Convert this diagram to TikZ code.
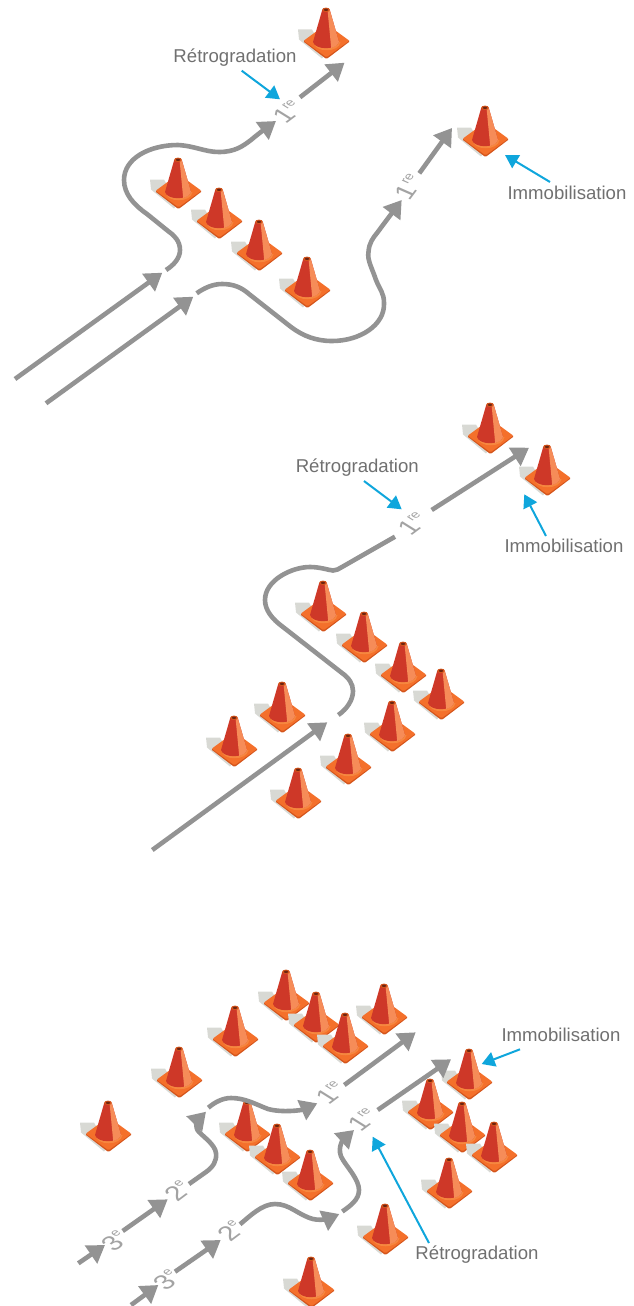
\documentclass[tikz,border=0pt]{standalone}
\usepackage{fontspec}
\setmainfont{Liberation Sans}
\usetikzlibrary{arrows.meta}
\definecolor{roadgrey}{HTML}{939393}
\definecolor{textgrey}{HTML}{707070}
\definecolor{callblue}{HTML}{0FA6DC}
\definecolor{shadowgrey}{HTML}{D8D9D4}
\definecolor{baseorange}{HTML}{F4702B}
\definecolor{baseedge}{HTML}{D4551C}
\definecolor{baselight}{HTML}{F6873F}
\definecolor{conered}{HTML}{CE3828}
\definecolor{conelight}{HTML}{F68C58}
\definecolor{conehole}{HTML}{6E2410}
\tikzset{
  road/.style={draw=roadgrey,line width=4.6pt,line cap=butt,line join=round},
  roadarrow/.style={road,-{Triangle[length=17pt,width=21pt]}},
  callout/.style={draw=callblue,line width=2pt,-{Triangle[length=13pt,width=15pt]}},
  caption/.style={text=textgrey,font=\fontsize{18.6}{22}\selectfont,inner sep=0pt},
  gear/.style={text=roadgrey!85!white,font=\fontsize{26}{26}\selectfont,inner sep=0pt,cm={.8,.6,-.85,.53,(0,0)}},
  gearsteep/.style={text=roadgrey!85!white,font=\fontsize{26}{26}\selectfont,inner sep=0pt,cm={.6,.8,-.91,.4,(0,0)}},
  trafficcone/.pic={
    \fill[shadowgrey] (-28,20.5) -- (-14,20.5) -- (0,45) -- (-4,49.5) -- (-27,30.5) -- cycle;
    \fill[baseedge] (-22,31.5) -- (-22,33) -- (-1,49) [rounded corners=1pt] -- (0.5,49.8) -- (2,49) [sharp corners] -- (23,33) -- (23,31.5) -- cycle;
    \fill[baseorange,rounded corners=1pt] (-22.3,31.7) -- (0.5,15) -- (23.3,31.7) -- (0.5,48.3) -- cycle;
    \fill[baselight] (-12.5,33) .. controls (-12,44) and (13,44) .. (14.5,33) -- cycle;
    \fill[conered] (-3.8,1) -- (-13,33) .. controls (-11,41) and (10,41.5) .. (13,33) -- (3.8,1) -- cycle;
    \fill[conelight] (1.5,0.5) -- (3.8,1) -- (13,33) .. controls (11.5,36.5) and (8.5,38.5) .. (5.2,39) -- cycle;
    \fill[baseedge] (0,0.8) ellipse[x radius=3.9pt,y radius=2.2pt];
    \fill[conehole] (0,0.8) ellipse[x radius=2.1pt,y radius=1.2pt];
  }
}
\newcommand{\gearmark}[2]{#1\raisebox{0.45em}{\fontsize{13}{13}\selectfont #2}}
\begin{document}
\begin{tikzpicture}[x=1pt,y=-1pt]
\useasboundingbox (0,0) rectangle (634,1306);

% ---------- cones, back to front
\foreach \p in {(326,9),(485,107),(178,159),(219,189),(259,221),(307,258),
  (490,404),(547,446),(323,582),(364,613),(403,643),(441,670),(282,683),(392,702),(234,717),(348,735),(298,769),
  (286,971),(384,985),(316,993),(235,1007),(345,1014),(179,1048),(469,1050),(430,1080),(108,1102),(247,1102),(462,1103),(277,1125),(494,1123),(310,1151),(449,1159),(385,1205),(311,1258)}
  \pic at \p {trafficcone};

% ---------- top group
\coordinate (a0) at (15,379);
\coordinate (a1) at (162.3,272.7);
\coordinate (a2) at (166,270);
\coordinate (a3) at (276,121);
\coordinate (a4) at (300,97.3);
\coordinate (a5) at (344.5,62.7);
\draw[roadarrow] (a0) -- (a1);
\draw[roadarrow] (a2) .. controls (174,265) and (180,258) .. (180,250)
  .. controls (180,241) and (174,235) .. (168,231) -- (147,214)
  .. controls (134,205) and (124,194) .. (124,180)
  .. controls (124,158) and (150,145) .. (178,145)
  .. controls (195,146) and (205,152) .. (219,152)
  .. controls (235,152) and (243,146) .. (251,140)
  .. controls (258,134) and (265,129) .. (a3);
\draw[roadarrow] (a4) -- (a5);
\node[gear] (g1) at (288,112) {\gearmark{1}{re}};

\coordinate (b0) at (46,403.3);
\coordinate (b1) at (193.3,296.7);
\coordinate (b2) at (196.7,293.3);
\coordinate (b3) at (401.7,200);
\coordinate (b4) at (419.3,173.3);
\coordinate (b5) at (452,128);
\draw[roadarrow] (b0) -- (b1);
\draw[roadarrow] (b2) .. controls (204,288) and (213,284) .. (222,284)
  .. controls (233,284) and (241,287) .. (249,294) -- (291,327)
  .. controls (303,336) and (316,341) .. (332,341)
  .. controls (360,341) and (385,325) .. (384,303)
  .. controls (384,293) and (380,290) .. (376,280)
  .. controls (372,268) and (367,260) .. (368.5,252)
  .. controls (369,243) and (373,238) .. (377,233) -- (b3);
\draw[roadarrow] (b4) -- (b5);
\node[gearsteep] (g2) at (409,187) {\gearmark{1}{re}};

\node[caption] (r1) at (235,57.5) {Rétrogradation};
\coordinate (r1a) at (241.7,70.7);
\coordinate (r1b) at (280,99.3);
\draw[callout] (r1a) -- (r1b);
\node[caption] (i1) at (567,193) {Immobilisation};
\coordinate (i1a) at (550,182);
\coordinate (i1b) at (505,155);
\draw[callout] (i1a) -- (i1b);

% ---------- middle group
\coordinate (c0) at (152.3,850);
\coordinate (c1) at (327.3,722.3);
\coordinate (c2) at (338.3,715);
\coordinate (c3) at (395,536.7);
\coordinate (c4) at (431.7,510);
\coordinate (c5) at (529,447.7);
\draw[roadarrow] (c0) -- (c1);
\draw[road] (c2) .. controls (347,709) and (353,700) .. (353,691)
  .. controls (353,684) and (349,678) .. (342,673) -- (283,627)
  .. controls (272,619) and (265,610) .. (265,600)
  .. controls (265,580) and (292,567) .. (310,567)
  .. controls (320,567) and (328,570) .. (333,570.5)
  .. controls (336,570.5) and (339,569) .. (342,567) -- (c3);
\draw[roadarrow] (c4) -- (c5);
\node[gear] (g3) at (413,524) {\gearmark{1}{re}};

\node[caption] (r2) at (357.3,467.7) {Rétrogradation};
\coordinate (r2a) at (364,481);
\coordinate (r2b) at (401.7,509.3);
\draw[callout] (r2a) -- (r2b);
\node[caption] (i2) at (564,546) {Immobilisation};
\coordinate (i2a) at (546,536);
\coordinate (i2b) at (524.3,494.3);
\draw[callout] (i2a) -- (i2b);

% ---------- bottom group, upper road
\coordinate (d0) at (78.3,1263.3);
\coordinate (d1) at (105,1245);
\coordinate (d2) at (122.7,1231);
\coordinate (d3) at (167.7,1199.3);
\coordinate (d4) at (189,1184);
\coordinate (d5) at (206,1111.7);
\coordinate (d6) at (208.3,1107.7);
\coordinate (d7) at (317.3,1103.3);
\coordinate (d8) at (344.3,1085);
\coordinate (d9) at (415.7,1032.3);
\draw[roadarrow] (d0) -- (d1);
\draw[roadarrow] (d2) -- (d3);
\draw[roadarrow] (d4) -- (206,1172) .. controls (213,1167) and (217,1161) .. (216,1153)
  .. controls (215,1145) and (205,1138) .. (199,1132)
  .. controls (194,1127) and (198,1120) .. (d5);
\draw[roadarrow] (d6) .. controls (215,1102) and (223,1098) .. (231,1098)
  .. controls (245,1098) and (255,1104) .. (268,1109)
  .. controls (283,1113) and (302,1110) .. (d7);
\draw[roadarrow] (d8) -- (d9);
\node[gear] (g4) at (115,1241) {\gearmark{3}{e}};
\node[gear] (g5) at (178,1191) {\gearmark{2}{e}};
\node[gear] (g6) at (331,1093) {\gearmark{1}{re}};

% ---------- bottom group, lower road
\coordinate (e0) at (131,1305);
\coordinate (e1) at (158.3,1285);
\coordinate (e2) at (175,1271.7);
\coordinate (e3) at (220.7,1240);
\coordinate (e4) at (240,1224.3);
\coordinate (e5) at (339.3,1214);
\coordinate (e6) at (342.3,1211.5);
\coordinate (e7) at (354,1130);
\coordinate (e8) at (377.7,1110);
\coordinate (e9) at (451,1059.3);
\draw[roadarrow] (e0) -- (e1);
\draw[roadarrow] (e2) -- (e3);
\draw[roadarrow] (e4) .. controls (250,1216) and (262,1204) .. (275,1204)
  .. controls (290,1204) and (298,1215) .. (313,1219)
  .. controls (322,1221) and (330,1218) .. (e5);
\draw[roadarrow] (e6) .. controls (350,1206) and (359,1200) .. (359,1190)
  .. controls (359,1180) and (348,1168) .. (343,1160)
  .. controls (336,1150) and (343,1140) .. (e7);
\draw[roadarrow] (e8) -- (e9);
\node[gear] (g7) at (167,1280) {\gearmark{3}{e}};
\node[gear] (g8) at (231,1231) {\gearmark{2}{e}};
\node[gear] (g9) at (363,1120) {\gearmark{1}{re}};

\node[caption] (i3) at (561,1035) {Immobilisation};
\coordinate (i3a) at (520,1049.3);
\coordinate (i3b) at (481.7,1064);
\draw[callout] (i3a) -- (i3b);
\node[caption] (r3) at (477,1255) {Rétrogradation};
\coordinate (r3a) at (429,1243);
\coordinate (r3b) at (372.7,1136.7);
\draw[callout] (r3a) -- (r3b);
\end{tikzpicture}
\end{document}
